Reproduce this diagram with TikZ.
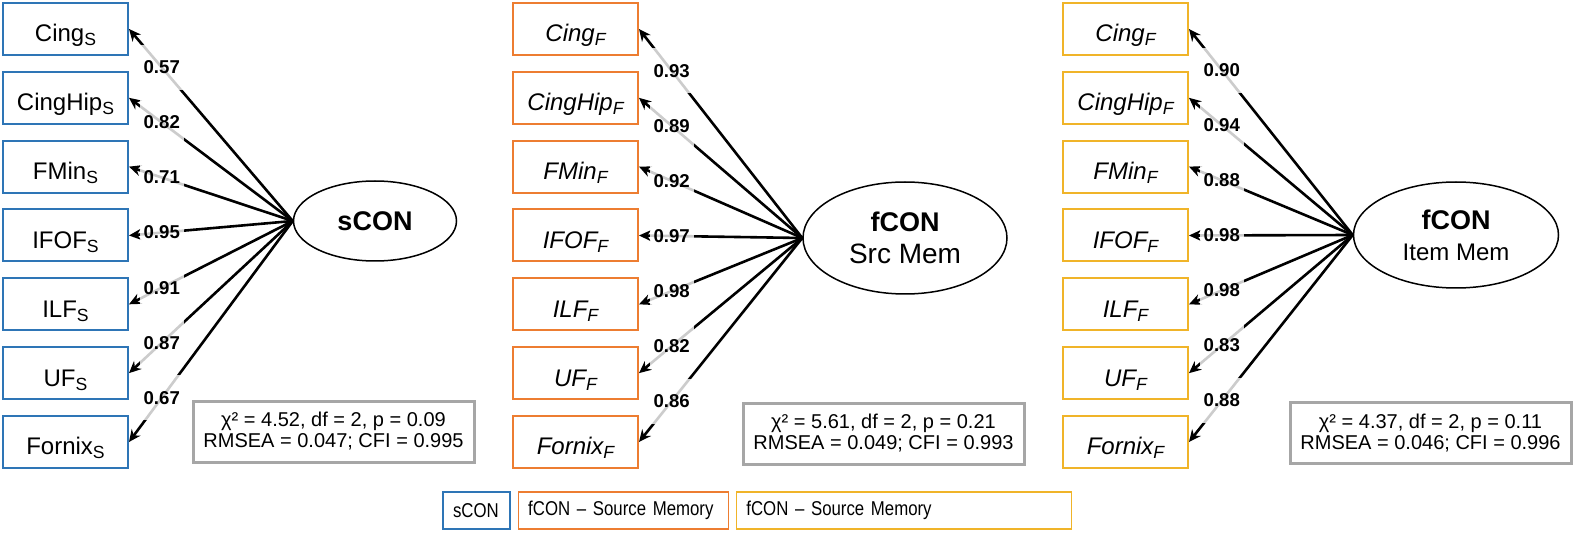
\documentclass[tikz,border=0pt]{standalone}
\usepackage{fontspec}
\setmainfont{Liberation Sans}
\newfontfamily\legfont[FakeStretch=0.84]{Liberation Sans}
\usetikzlibrary{calc,shapes.geometric,arrows.meta,positioning}
\definecolor{sconblue}{HTML}{2E75B6}
\definecolor{fconorange}{HTML}{ED7D31}
\definecolor{fcongold}{HTML}{F0B429}
\definecolor{statgray}{HTML}{A6A6A6}
\newcommand{\lsub}[1]{\raisebox{-2pt}{\fontsize{8.8}{8.8}\selectfont #1}}

\begin{document}
\begin{tikzpicture}[x=0.5pt, y=-0.5pt]

\tikzset{
obs/.style={draw, line width=1pt, minimum width=62.5pt, minimum height=26pt, inner sep=0pt, text height=15pt, text depth=2pt, font=\fontsize{12}{14}\selectfont},
obs1/.style={obs, draw=sconblue},
obs2/.style={obs, draw=fconorange, font=\fontsize{12}{14}\selectfont\itshape},
obs3/.style={obs, draw=fcongold, font=\fontsize{12}{14}\selectfont\itshape},
latent/.style={ellipse, draw, line width=0.75pt, inner sep=0pt, align=center},
load/.style={-{Stealth[length=6pt,width=5.5pt]}, line width=1.3pt},
loadlab/.style={pos=0.8, fill=white, fill opacity=0.8, text opacity=1, inner xsep=2pt, inner ysep=8pt, font=\fontsize{9.3}{10}\selectfont\bfseries},
fitbox/.style={draw=statgray, line width=1.5pt, minimum width=140.5pt, minimum height=30.5pt, align=center, font=\fontsize{10}{10.5}\selectfont},
legbox/.style={draw, line width=0.6pt, minimum height=18.5pt, inner xsep=5pt, align=left, font=\legfont\fontsize{10}{12}\selectfont}
}

\useasboundingbox (0,0) rectangle (1574,534);

% Nodes
\coordinate (col1) at (65.5,0);
\coordinate (col2) at (575.5,0);
\coordinate (col3) at (1125.5,0);
\coordinate (row1) at (0,29);
\coordinate (rowsep) at (0,68.83);

% Structural model
\node[obs1] (cing1) at ($(col1) + (row1)$) {Cing\lsub{S}};
\node[obs1] (cinghip1) at ($(col1) + (row1) + 1*(rowsep)$) {CingHip\lsub{S}};
\node[obs1] (fmin1) at ($(col1) + (row1) + 2*(rowsep)$) {FMin\lsub{S}};
\node[obs1] (ifof1) at ($(col1) + (row1) + 3*(rowsep)$) {IFOF\lsub{S}};
\node[obs1] (ilf1) at ($(col1) + (row1) + 4*(rowsep)$) {ILF\lsub{S}};
\node[obs1] (uf1) at ($(col1) + (row1) + 5*(rowsep)$) {UF\lsub{S}};
\node[obs1] (fornix1) at ($(col1) + (row1) + 6*(rowsep)$) {Fornix\lsub{S}};

\node[latent, minimum width=81.5pt, minimum height=40pt, font=\fontsize{13.5}{16}\selectfont\bfseries] (lat1) at (375,221) {sCON};

% Functional model, source memory
\node[obs2] (cing2) at ($(col2) + (row1)$) {Cing\lsub{F}};
\node[obs2] (cinghip2) at ($(col2) + (row1) + 1*(rowsep)$) {CingHip\lsub{F}};
\node[obs2] (fmin2) at ($(col2) + (row1) + 2*(rowsep)$) {FMin\lsub{F}};
\node[obs2] (ifof2) at ($(col2) + (row1) + 3*(rowsep)$) {IFOF\lsub{F}};
\node[obs2] (ilf2) at ($(col2) + (row1) + 4*(rowsep)$) {ILF\lsub{F}};
\node[obs2] (uf2) at ($(col2) + (row1) + 5*(rowsep)$) {UF\lsub{F}};
\node[obs2] (fornix2) at ($(col2) + (row1) + 6*(rowsep)$) {Fornix\lsub{F}};

\node[latent, minimum width=102pt, minimum height=56pt, font=\fontsize{14}{16}\selectfont] (lat2) at (905,238) {{\fontsize{13.5}{16}\selectfont\bfseries fCON}\\Src Mem};

% Functional model, item memory
\node[obs3] (cing3) at ($(col3) + (row1)$) {Cing\lsub{F}};
\node[obs3] (cinghip3) at ($(col3) + (row1) + 1*(rowsep)$) {CingHip\lsub{F}};
\node[obs3] (fmin3) at ($(col3) + (row1) + 2*(rowsep)$) {FMin\lsub{F}};
\node[obs3] (ifof3) at ($(col3) + (row1) + 3*(rowsep)$) {IFOF\lsub{F}};
\node[obs3] (ilf3) at ($(col3) + (row1) + 4*(rowsep)$) {ILF\lsub{F}};
\node[obs3] (uf3) at ($(col3) + (row1) + 5*(rowsep)$) {UF\lsub{F}};
\node[obs3] (fornix3) at ($(col3) + (row1) + 6*(rowsep)$) {Fornix\lsub{F}};

\node[latent, minimum width=102.5pt, minimum height=53pt, font=\fontsize{12}{15.5}\selectfont] (lat3) at (1456,235) {{\fontsize{13.5}{15.5}\selectfont\bfseries fCON}\\Item Mem};


% Arrows
\draw[load] (lat1.west) -- (cing1.east) node[loadlab] {0.57};
\draw[load] (lat1.west) -- (cinghip1.east) node[loadlab] {0.82};
\draw[load] (lat1.west) -- (fmin1.east) node[loadlab] {0.71};
\draw[load] (lat1.west) -- (ifof1.east) node[loadlab] {0.95};
\draw[load] (lat1.west) -- (ilf1.east) node[loadlab] {0.91};
\draw[load] (lat1.west) -- (uf1.east) node[loadlab] {0.87};
\draw[load] (lat1.west) -- (fornix1.east) node[loadlab] {0.67};

\draw[load] (lat2.west) -- (cing2.east) node[loadlab] {0.93};
\draw[load] (lat2.west) -- (cinghip2.east) node[loadlab] {0.89};
\draw[load] (lat2.west) -- (fmin2.east) node[loadlab] {0.92};
\draw[load] (lat2.west) -- (ifof2.east) node[loadlab] {0.97};
\draw[load] (lat2.west) -- (ilf2.east) node[loadlab] {0.98};
\draw[load] (lat2.west) -- (uf2.east) node[loadlab] {0.82};
\draw[load] (lat2.west) -- (fornix2.east) node[loadlab] {0.86};

\draw[load] (lat3.west) -- (cing3.east) node[loadlab] {0.90};
\draw[load] (lat3.west) -- (cinghip3.east) node[loadlab] {0.94};
\draw[load] (lat3.west) -- (fmin3.east) node[loadlab] {0.88};
\draw[load] (lat3.west) -- (ifof3.east) node[loadlab] {0.98};
\draw[load] (lat3.west) -- (ilf3.east) node[loadlab] {0.98};
\draw[load] (lat3.west) -- (uf3.east) node[loadlab] {0.83};
\draw[load] (lat3.west) -- (fornix3.east) node[loadlab] {0.88};


% Fit statistics
\node[fitbox] (fit1) at (333.5,431.5) {χ² = 4.52, df = 2, p = 0.09\\RMSEA = 0.047; CFI = 0.995};
\node[fitbox] (fit2) at (883.5,433.5) {χ² = 5.61, df = 2, p = 0.21\\RMSEA = 0.049; CFI = 0.993};
\node[fitbox] (fit3) at (1430.5,433) {χ² = 4.37, df = 2, p = 0.11\\RMSEA = 0.046; CFI = 0.996};

% Legend
\node[legbox, draw=sconblue, text width=23.5pt] (leg1) at (476.5,510.5) {sCON};
\node[legbox, draw=fconorange, text width=95pt, right=3.5pt of leg1] (leg2) {fCON – Source Memory};
\node[legbox, draw=fcongold, text width=157.5pt, right=3.5pt of leg2] (leg3) {fCON – Source Memory};

\end{tikzpicture}
\end{document}
